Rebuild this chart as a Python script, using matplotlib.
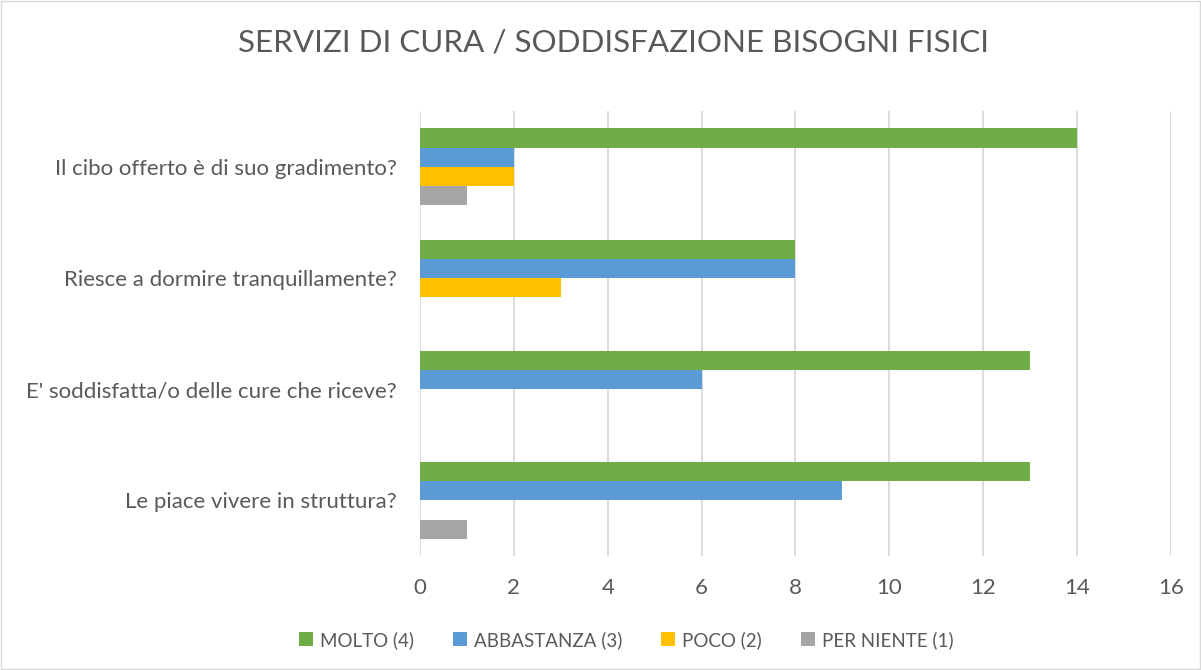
import numpy as np
import matplotlib.pyplot as plt
from matplotlib.patches import Rectangle

plt.rcParams['font.family'] = ['Lato', 'DejaVu Sans']

domande = ["Il cibo offerto è di suo gradimento?",
           "Riesce a dormire tranquillamente?",
           "E' soddisfatta/o delle cure che riceve?",
           "Le piace vivere in struttura?"]
serie = ["MOLTO (4)", "ABBASTANZA (3)", "POCO (2)", "PER NIENTE (1)"]
molto = [14, 8, 13, 13]
abbastanza = [2, 8, 6, 9]
poco = [2, 3, 0, 0]
per_niente = [1, 0, 0, 1]
colori = ["#70AD47", "#5B9BD5", "#FFC000", "#A5A5A5"]

fig = plt.figure(figsize=(12.01, 6.70), dpi=100)
ax = fig.add_axes([0.3497, 0.1701, 0.6253, 0.6642])

y = np.arange(len(domande))
h = 0.172
valori = [molto, abbastanza, poco, per_niente]
for i, (nome, vals, col) in enumerate(zip(serie, valori, colori)):
    ax.barh(y - 1.5 * h + i * h, vals, height=h, color=col, label=nome,
            linewidth=0, zorder=3)

ax.set_ylim(len(domande) - 0.5, -0.5)
ax.set_xlim(0, 16)
ax.set_xticks(range(0, 17, 2))
ax.set_yticks(y)
ax.set_yticklabels(domande)
ax.tick_params(axis='both', length=0, labelsize=16, colors='#595959')
ax.tick_params(axis='x', pad=16)
ax.tick_params(axis='y', pad=17)
ax.grid(axis='x', color='#D9D9D9', linewidth=1.3, zorder=0)
for s in ax.spines.values():
    s.set_visible(False)

fig.suptitle("SERVIZI DI CURA / SODDISFAZIONE BISOGNI FISICI", x=0.5105, y=0.958,
             fontsize=22.6, color='#595959')

ax.legend(loc='center', bbox_to_anchor=(0.5213, 0.045), bbox_transform=fig.transFigure,
          ncol=4, frameon=False, fontsize=13.5, labelcolor='#595959',
          handlelength=0.75, handleheight=0.75, handletextpad=0.35, columnspacing=2.1)

fig.patches.append(Rectangle((0.001, 0.001), 0.998, 0.997, transform=fig.transFigure,
                             fill=False, edgecolor='#D9D9D9', linewidth=1))

fig.savefig("out.png", dpi=100)
